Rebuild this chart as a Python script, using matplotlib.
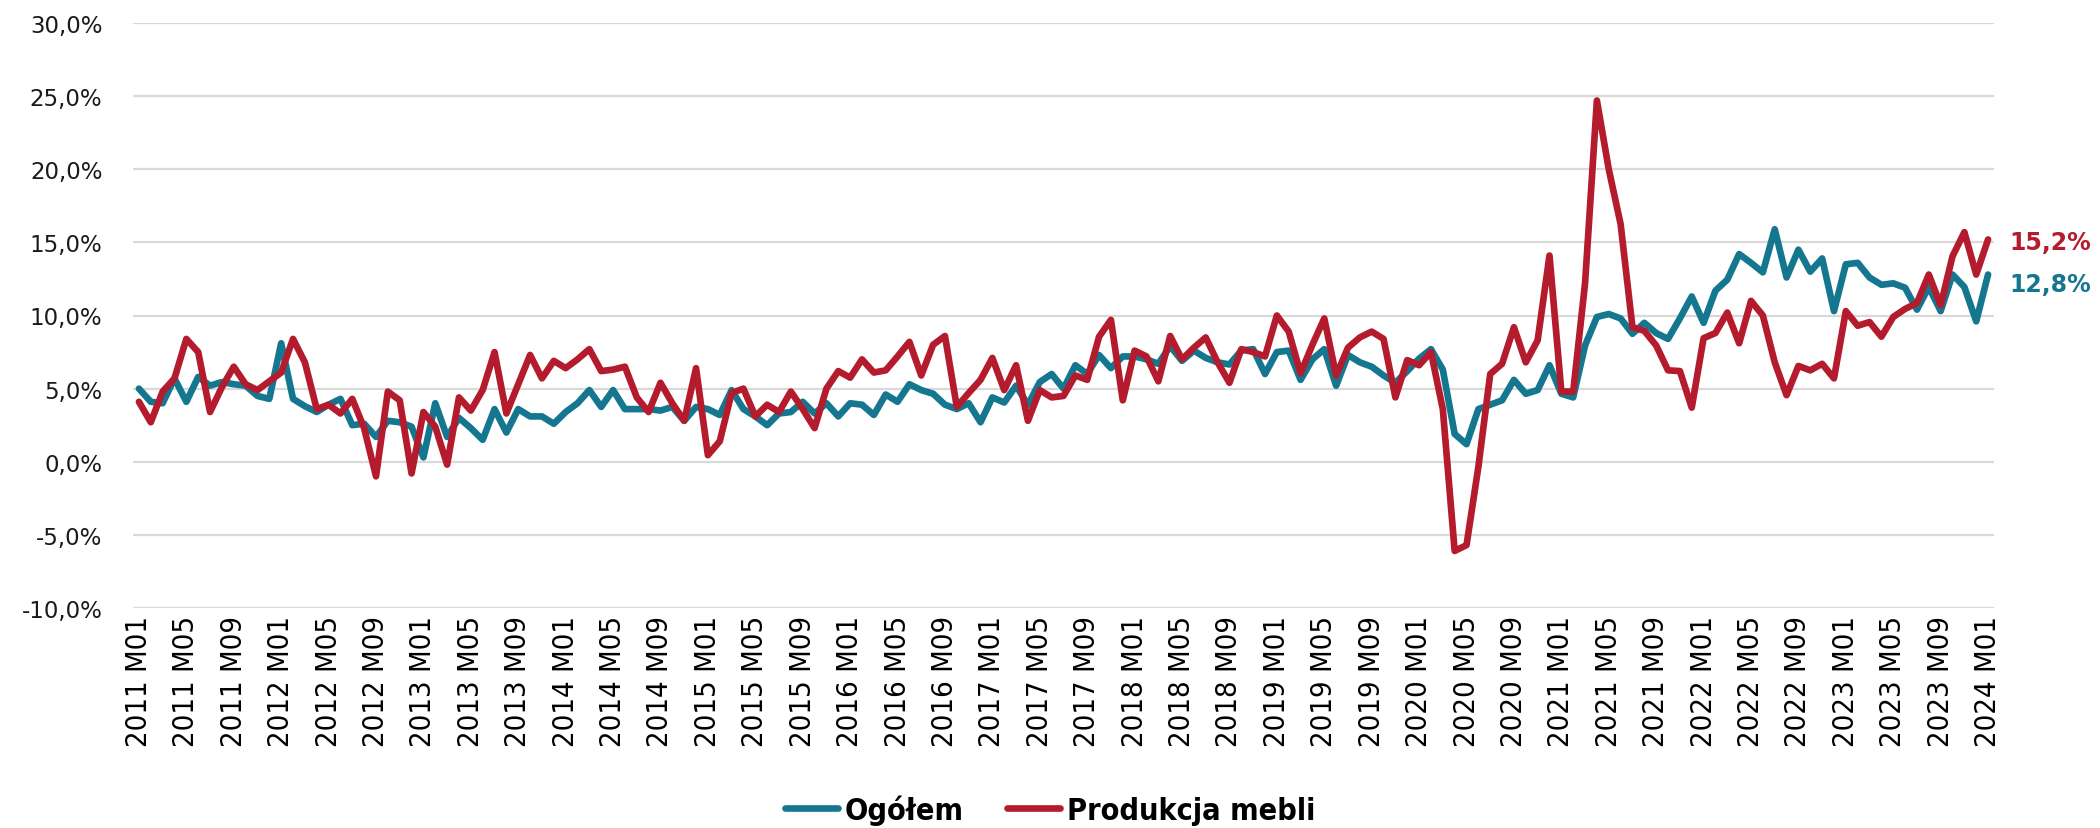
import matplotlib
matplotlib.use("Agg")
import matplotlib.pyplot as plt
import numpy as np
from matplotlib.lines import Line2D

# Monthly labels 2011 M01 .. 2024 M01
months = [f"{y} M{m:02d}" for y in range(2011, 2024) for m in range(1, 13)] + ["2024 M01"]

# Year-on-year change, %
ogolem = [
    5.0, 4.1, 4.0, 5.7, 4.1, 5.8, 5.2, 5.45, 5.3, 5.2, 4.5, 4.3,
    8.1, 4.3, 3.8, 3.4, 3.9, 4.3, 2.5, 2.6, 1.7, 2.8, 2.7, 2.4,
    0.3, 4.0, 1.7, 3.0, 2.3, 1.5, 3.6, 2.0, 3.6, 3.1, 3.1, 2.6,
    3.4, 4.0, 4.9, 3.75, 4.9, 3.6, 3.6, 3.6, 3.5, 3.75, 2.8, 3.75,
    3.6, 3.2, 4.9, 3.6, 3.1, 2.5, 3.3, 3.4, 4.1, 3.3, 4.0, 3.1,
    4.0, 3.9, 3.2, 4.6, 4.1, 5.3, 4.9, 4.65, 3.9, 3.6, 4.0, 2.7,
    4.4, 4.05, 5.2, 3.9, 5.45, 6.0, 5.0, 6.6, 6.0, 7.3, 6.4, 7.2,
    7.2, 7.0, 6.7, 7.9, 6.9, 7.6, 7.1, 6.8, 6.65, 7.6, 7.7, 6.0,
    7.5, 7.6, 5.6, 7.0, 7.7, 5.2, 7.3, 6.8, 6.5, 5.9, 5.4, 6.2,
    7.05, 7.7, 6.3, 1.9, 1.2, 3.6, 3.9, 4.2, 5.6, 4.65, 4.9, 6.6,
    4.65, 4.4, 7.95, 9.9, 10.1, 9.8, 8.75, 9.5, 8.8, 8.4, 9.8, 11.3,
    9.5, 11.7, 12.45, 14.2, 13.6, 12.95, 15.9, 12.6, 14.5, 13.0, 13.9, 10.3,
    13.5, 13.6, 12.6, 12.1, 12.2, 11.9, 10.4, 11.95, 10.3, 12.8, 11.95, 9.6,
    12.8,
]
meble = [
    4.1, 2.7, 4.8, 5.7, 8.4, 7.5, 3.4, 5.1, 6.5, 5.3, 4.9, 5.5,
    6.1, 8.4, 6.8, 3.6, 3.9, 3.3, 4.3, 2.3, -1.0, 4.8, 4.2, -0.8,
    3.4, 2.4, -0.2, 4.4, 3.5, 4.9, 7.5, 3.3, 5.3, 7.3, 5.7, 6.9,
    6.4, 7.0, 7.7, 6.2, 6.3, 6.5, 4.4, 3.4, 5.4, 4.0, 2.8, 6.4,
    0.45, 1.4, 4.7, 5.0, 3.1, 3.9, 3.4, 4.8, 3.6, 2.3, 5.0, 6.2,
    5.75, 7.0, 6.1, 6.25, 7.2, 8.2, 5.9, 8.0, 8.6, 3.75, 4.7, 5.6,
    7.1, 4.9, 6.6, 2.8, 4.9, 4.4, 4.5, 5.9, 5.6, 8.55, 9.7, 4.2,
    7.6, 7.2, 5.5, 8.6, 7.0, 7.8, 8.5, 6.8, 5.4, 7.7, 7.5, 7.2,
    10.0, 8.9, 6.05, 8.0, 9.8, 5.9, 7.8, 8.5, 8.9, 8.4, 4.4, 6.95,
    6.6, 7.5, 3.6, -6.1, -5.7, -0.35, 6.0, 6.7, 9.2, 6.8, 8.3, 14.1,
    4.8, 4.8, 12.2, 24.7, 20.0, 16.25, 9.2, 8.95, 7.95, 6.25, 6.2, 3.7,
    8.45, 8.8, 10.2, 8.1, 11.0, 10.0, 6.8, 4.55, 6.55, 6.25, 6.7, 5.7,
    10.3, 9.3, 9.55, 8.55, 9.9, 10.45, 10.85, 12.8, 10.7, 14.05, 15.7, 12.8,
    15.2,
]

series_names = ["Ogółem", "Produkcja mebli"]
y_ticks = [-10, -5, 0, 5, 10, 15, 20, 25, 30]

TEAL = "#15778F"
RED = "#B41B2C"
GRID = "#D9D9D9"
LW = 4.8


def pct(v):
    return f"{v:.1f}%".replace(".", ",")


fig = plt.figure(figsize=(21, 8.29), dpi=100)
ax = fig.add_axes([133 / 2100, 1 - 609 / 829, (1994 - 133) / 2100, (609 - 24) / 829])

x = np.arange(len(months))
ax.plot(x, ogolem, color=TEAL, lw=LW, solid_joinstyle="round", solid_capstyle="round", zorder=3)
ax.plot(x, meble, color=RED, lw=LW, solid_joinstyle="round", solid_capstyle="round", zorder=4)

ax.set_xlim(-0.5, len(months) - 0.5)
ax.set_ylim(y_ticks[0], y_ticks[-1])
ax.set_yticks(y_ticks)
ax.set_yticklabels([pct(v) for v in y_ticks], fontsize=16.5, family="DejaVu Sans", color="#1a1a1a")
ax.yaxis.grid(True, color=GRID, lw=1.6)
ax.set_axisbelow(True)

tick_pos = x[::4]
ax.set_xticks(tick_pos)
ax.set_xticklabels([months[i] for i in tick_pos], rotation=90, fontsize=21,
                   family="DejaVu Sans", fontstretch="condensed", color="#000000")
ax.tick_params(axis="both", length=0)
ax.tick_params(axis="y", pad=22)
ax.tick_params(axis="x", pad=5)
for s in ax.spines.values():
    s.set_visible(False)

# End-of-series value labels
ax.annotate(pct(meble[-1]), xy=(x[-1], meble[-1]), xytext=(15, -2), textcoords="offset points",
            ha="left", va="center", color=RED, fontsize=17, fontweight="bold",
            family="DejaVu Sans", annotation_clip=False)
ax.annotate(pct(ogolem[-1]), xy=(x[-1], ogolem[-1]), xytext=(15, -7), textcoords="offset points",
            ha="left", va="center", color=TEAL, fontsize=17, fontweight="bold",
            family="DejaVu Sans", annotation_clip=False)

handles = [Line2D([], [], color=TEAL, lw=LW, solid_capstyle="round"),
           Line2D([], [], color=RED, lw=LW, solid_capstyle="round")]
fig.legend(handles, series_names, loc="center", bbox_to_anchor=(0.5, 0.022), ncol=2,
           frameon=False, handlelength=1.75, handletextpad=0.22, columnspacing=1.4,
           prop={"family": "DejaVu Sans", "stretch": "condensed", "weight": "bold", "size": 22})

fig.savefig("out.png", dpi=100, facecolor="white")
